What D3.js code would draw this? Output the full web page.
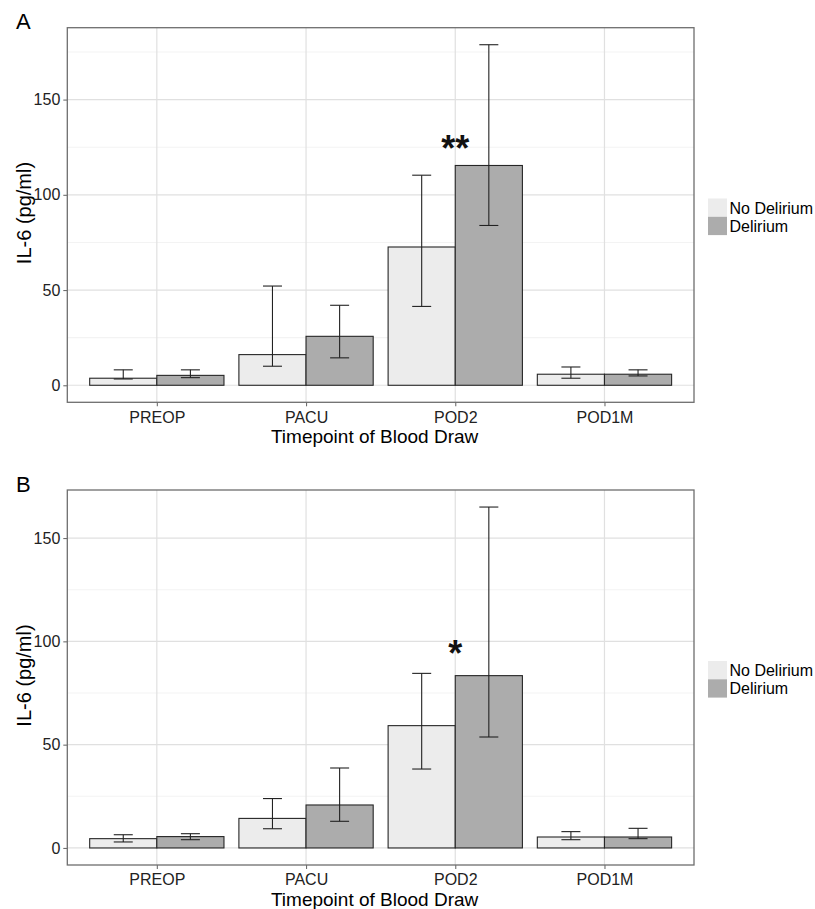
<!DOCTYPE html>
<html>
<head>
<meta charset="utf-8">
<script src="https://cdn.jsdelivr.net/npm/d3@7"></script>
<style>
  html, body { margin: 0; padding: 0; background: #fff; }
  svg { display: block; font-family: "Liberation Sans", Arial, sans-serif; }
</style>
</head>
<body>
<svg id="chart" width="815" height="909"></svg>
<script>
// ---------- data ----------
const categories = ["PREOP", "PACU", "POD2", "POD1M"];
const groups = ["No Delirium", "Delirium"];
const groupFill = ["#ececec", "#acacac"];
const yTicks = [0, 50, 100, 150];
const yMinorTicks = [25, 75, 125, 175];

// Panel A
const aNoDel    = [3.7, 16.1, 72.6, 5.8];
const aNoDelLo  = [3.3, 10.0, 41.4, 3.7];
const aNoDelHi  = [8.1, 52.1, 110.3, 9.6];
const aDel      = [5.2, 25.7, 115.4, 5.8];
const aDelLo    = [4.0, 14.4, 83.9, 4.9];
const aDelHi    = [8.1, 42.0, 178.8, 8.1];
const aSignif   = { category: "POD2", label: "**" };

// Panel B
const bNoDel    = [4.5, 14.3, 59.2, 5.3];
const bNoDelLo  = [2.9, 9.3, 38.2, 4.0];
const bNoDelHi  = [6.4, 23.9, 84.5, 7.9];
const bDel      = [5.5, 20.8, 83.4, 5.3];
const bDelLo    = [4.0, 12.9, 53.7, 4.5];
const bDelHi    = [6.9, 38.7, 165.0, 9.5];
const bSignif   = { category: "POD2", label: "*" };

const xTitle = "Timepoint of Blood Draw";
const yTitle = "IL-6 (pg/ml)";

// ---------- drawing ----------
const svg = d3.select("#chart");
svg.append("rect").attr("width", 815).attr("height", 909).attr("fill", "#fff");

function buildRows(vals, lo, hi) {
  return categories.map((c, i) => groups.map((g, j) => ({
    cat: c, group: g, gi: j,
    value: vals[j][i], lo: lo[j][i], hi: hi[j][i]
  }))).flat();
}

function drawPanel(opts) {
  const { left, top, right, bottom, tag, rows, signif, sigY } = opts;
  const g = svg.append("g");

  const maxHi = d3.max(rows, d => d.hi);
  const y = d3.scaleLinear()
    .domain([-0.05 * maxHi, maxHi * 1.05])
    .range([bottom, top]);
  const x = d3.scalePoint().domain(categories).range([left, right]).padding(0.6);
  const step = x.step();
  const xg = d3.scaleBand().domain(groups).range([-0.45 * step, 0.45 * step]).padding(0);

  // panel background
  g.append("rect").attr("x", left).attr("y", top)
    .attr("width", right - left).attr("height", bottom - top).attr("fill", "#fff");

  // minor grid
  g.selectAll(".ygm").data(yMinorTicks.filter(v => y(v) > top && y(v) < bottom))
    .enter().append("line")
    .attr("x1", left).attr("x2", right)
    .attr("y1", d => y(d)).attr("y2", d => y(d))
    .attr("stroke", "#f3f3f3").attr("stroke-width", 1.1);
  // major grid
  g.selectAll(".ygM").data(yTicks).enter().append("line")
    .attr("x1", left).attr("x2", right)
    .attr("y1", d => y(d)).attr("y2", d => y(d))
    .attr("stroke", "#e0e0e0").attr("stroke-width", 1.2);
  g.selectAll(".xgM").data(categories).enter().append("line")
    .attr("x1", d => x(d)).attr("x2", d => x(d))
    .attr("y1", top).attr("y2", bottom)
    .attr("stroke", "#e0e0e0").attr("stroke-width", 1.2);

  // bars
  g.selectAll(".bar").data(rows).enter().append("rect")
    .attr("x", d => x(d.cat) + xg(d.group))
    .attr("width", xg.bandwidth())
    .attr("y", d => y(d.value))
    .attr("height", d => y(0) - y(d.value))
    .attr("fill", d => groupFill[d.gi])
    .attr("stroke", "#262626").attr("stroke-width", 1.1);

  // error bars
  const capHalf = 9.5;
  const eb = g.selectAll(".eb").data(rows).enter().append("g")
    .attr("transform", d => `translate(${x(d.cat) + xg(d.group) + xg.bandwidth() / 2},0)`);
  eb.append("line").attr("x1", 0).attr("x2", 0)
    .attr("y1", d => y(d.lo)).attr("y2", d => y(d.hi))
    .attr("stroke", "#222").attr("stroke-width", 1.1);
  eb.append("line").attr("x1", -capHalf).attr("x2", capHalf)
    .attr("y1", d => y(d.hi)).attr("y2", d => y(d.hi))
    .attr("stroke", "#222").attr("stroke-width", 1.1);
  eb.append("line").attr("x1", -capHalf).attr("x2", capHalf)
    .attr("y1", d => y(d.lo)).attr("y2", d => y(d.lo))
    .attr("stroke", "#222").attr("stroke-width", 1.1);

  // significance
  g.append("text")
    .attr("x", x(signif.category))
    .attr("y", sigY)
    .attr("text-anchor", "middle")
    .attr("font-size", 36).attr("font-weight", "bold")
    .attr("fill", "#111")
    .text(signif.label);

  // panel border
  g.append("rect").attr("x", left).attr("y", top)
    .attr("width", right - left).attr("height", bottom - top)
    .attr("fill", "none").attr("stroke", "#6e6e6e").attr("stroke-width", 1.3);

  // axes
  const yAxis = d3.axisLeft(y).tickValues(yTicks).tickSize(4).tickPadding(3);
  const ya = g.append("g").attr("transform", `translate(${left},0)`).call(yAxis);
  ya.select(".domain").remove();
  ya.selectAll(".tick line").attr("stroke", "#6e6e6e").attr("stroke-width", 1.1);
  ya.selectAll(".tick text").attr("font-size", 16).attr("fill", "#222")
    .attr("font-family", "Liberation Sans, Arial, sans-serif");

  const xAxis = d3.axisBottom(x).tickSize(4).tickPadding(5);
  const xa = g.append("g").attr("transform", `translate(0,${bottom})`).call(xAxis);
  xa.select(".domain").remove();
  xa.selectAll(".tick line").attr("stroke", "#6e6e6e").attr("stroke-width", 1.1);
  xa.selectAll(".tick text").attr("font-size", 16).attr("fill", "#222")
    .attr("font-family", "Liberation Sans, Arial, sans-serif");

  // axis titles
  g.append("text")
    .attr("x", (left + right) / 2 - 6)
    .attr("y", bottom + 41)
    .attr("text-anchor", "middle")
    .attr("font-size", 19).attr("fill", "#000")
    .text(xTitle);
  g.append("text")
    .attr("transform", `translate(30.5,${(top + bottom) / 2 - 2}) rotate(-90)`)
    .attr("text-anchor", "middle")
    .attr("font-size", 20).attr("fill", "#000")
    .text(yTitle);

  // panel tag
  g.append("text").attr("x", 16).attr("y", top + 1.7)
    .attr("font-size", 22).attr("fill", "#000").text(tag);

  // legend
  const legTop = (top + bottom) / 2 - 16.5;
  const leg = g.append("g").attr("transform", `translate(708,${legTop})`);
  groups.forEach((name, j) => {
    leg.append("rect").attr("x", 0).attr("y", j * 18.3)
      .attr("width", 19).attr("height", 18.3).attr("fill", groupFill[j]);
    leg.append("text").attr("x", 21.5).attr("y", j * 18.3 + 15)
      .attr("font-size", 16).attr("fill", "#000").text(name);
  });
}

drawPanel({
  left: 67.3, top: 27.7, right: 694, bottom: 402.3, tag: "A",
  rows: buildRows([aNoDel, aDel], [aNoDelLo, aDelLo], [aNoDelHi, aDelHi]),
  signif: aSignif, sigY: 161
});
drawPanel({
  left: 67.3, top: 490, right: 694, bottom: 865, tag: "B",
  rows: buildRows([bNoDel, bDel], [bNoDelLo, bDelLo], [bNoDelHi, bDelHi]),
  signif: bSignif, sigY: 665.5
});
</script>
</body>
</html>
